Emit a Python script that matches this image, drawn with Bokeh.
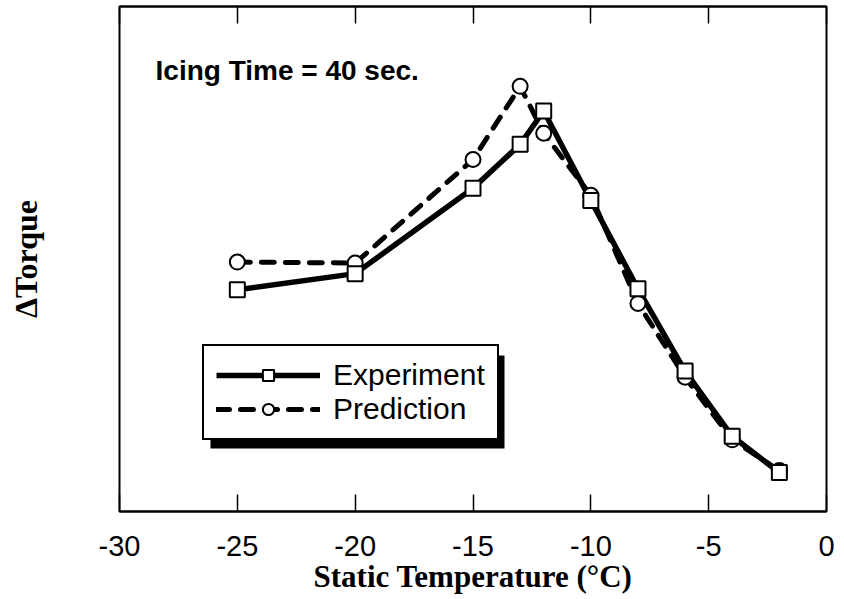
from bokeh.plotting import figure
from bokeh.models import (Range1d, FixedTicker, LinearAxis, Legend, LegendItem,
                          Label, BoxAnnotation, ColumnDataSource)
from bokeh.embed import file_html
from bokeh.resources import INLINE

# ---- data (y in arbitrary units 0..100) ----
temp = [-25, -20, -15, -13, -12, -10, -8, -6, -4, -2]
experiment = [43.9, 47.1, 64.0, 72.7, 79.3, 61.6, 44.1, 27.8, 14.9, 7.7]
prediction = [49.4, 49.2, 69.7, 84.2, 74.9, 62.6, 41.2, 26.6, 14.2, 8.1]
x_ticks = [-30, -25, -20, -15, -10, -5, 0]
x_tick_labels = ["-30", "-25", "-20", "-15", "-10", "-5", "0"]
annotation_text = "Icing Time = 40 sec."
x_title = "Static Temperature (°C)"
y_title = "ΔTorque"

src = ColumnDataSource(dict(t=temp, exp=experiment, pred=prediction))

p = figure(frame_width=707, frame_height=505, output_backend="svg",
           toolbar_location=None, x_range=Range1d(-30, 0), y_range=Range1d(0, 100),
           min_border_left=119, min_border_right=18, min_border_top=6,
           min_border_bottom=86, background_fill_color="white",
           border_fill_color="white")
p.grid.visible = False
p.outline_line_color = "black"
p.outline_line_width = 2
p.outline_line_alpha = 1

xa = p.xaxis[0]
xa.ticker = FixedTicker(ticks=x_ticks)
xa.major_label_overrides = dict(zip(x_ticks, x_tick_labels))
xa.major_tick_in = 17
xa.major_tick_out = 0
xa.minor_tick_line_color = None
xa.major_tick_line_width = 1.5
xa.axis_line_width = 2
xa.major_label_text_font = "Liberation Sans"
xa.major_label_text_font_size = "29px"
xa.major_label_text_color = "black"
xa.major_label_standoff = 24
xa.axis_label = x_title
xa.axis_label_text_font = "Liberation Serif"
xa.axis_label_text_font_style = "bold"
xa.axis_label_text_font_size = "31px"
xa.axis_label_text_color = "black"
xa.axis_label_standoff = 0

ya = p.yaxis[0]
ya.ticker = FixedTicker(ticks=[])
ya.major_tick_line_color = None
ya.minor_tick_line_color = None
ya.axis_line_color = None
ya.axis_label = y_title
ya.axis_label_text_font = "Liberation Serif"
ya.axis_label_text_font_style = "bold"
ya.axis_label_text_font_size = "32px"
ya.axis_label_text_color = "black"
ya.axis_label_standoff = 76

top = LinearAxis(ticker=FixedTicker(ticks=x_ticks), major_tick_in=17, major_tick_out=0,
                 minor_tick_line_color=None, major_tick_line_width=1.5,
                 axis_line_width=2, major_label_overrides={t: "" for t in x_ticks},
                 major_label_text_font_size="2px", major_label_standoff=0)
p.add_layout(top, "above")

# lines
l_pred = p.line("t", "pred", source=src, line_color="black", line_width=5,
                line_dash="13 11", line_cap="round")
l_exp = p.line("t", "exp", source=src, line_color="black", line_width=5.5)
m_pred = p.scatter("t", "pred", source=src, marker="circle", size=15,
                   fill_color="white", line_color="black", line_width=2)
m_exp = p.scatter("t", "exp", source=src, marker="square", size=15,
                  fill_color="white", line_color="black", line_width=2)

# legend shadow (screen units, relative to the plot frame)
LX, LY, LW, LH, SH = 83, 71, 294, 93, 8
shadow = BoxAnnotation(left=LX + SH, right=LX + LW + SH,
                       bottom=LY - SH, top=LY + LH - SH,
                       left_units="screen", right_units="screen",
                       bottom_units="screen", top_units="screen",
                       fill_color="black", fill_alpha=1, line_color=None,
                       level="annotation")
p.add_layout(shadow)

legend = Legend(items=[LegendItem(label="Experiment", renderers=[l_exp, m_exp]),
                       LegendItem(label="Prediction", renderers=[l_pred, m_pred])],
                location=(LX, LY), glyph_width=104, glyph_height=28,
                label_text_font="Liberation Sans", label_text_font_size="30px",
                label_text_color="black", label_standoff=13, padding=12,
                spacing=0, margin=0, border_line_color="black",
                border_line_width=2.5, border_line_alpha=1,
                background_fill_color="white",
                background_fill_alpha=1, label_height=28)
p.add_layout(legend, "center")

p.add_layout(Label(x=-28.47, y=87.3, text=annotation_text,
                   text_font="Liberation Sans", text_font_style="bold",
                   text_font_size="28px", text_color="black",
                   text_baseline="alphabetic"))

open("out.html", "w").write(file_html(p, INLINE))
